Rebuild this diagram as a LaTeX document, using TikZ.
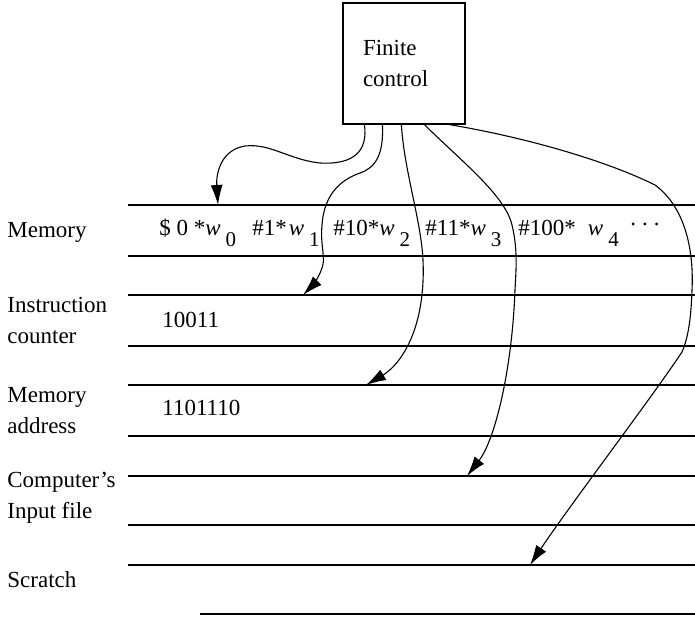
\documentclass[tikz,border=0pt]{standalone}
\usepackage{fontspec}
\setmainfont{Liberation Serif}
\usetikzlibrary{arrows.meta, positioning}
\newcommand{\wsub}[1]{\textit{w}\hspace{2.5pt}\raisebox{-5.5pt}{\fontsize{10.5}{12}\selectfont #1}}

\begin{document}
\begin{tikzpicture}[
  x=0.5pt, y=-0.5pt,
  font=\fontsize{11.5}{15.5}\selectfont,
  fcbox/.style={draw, line width=0.6pt, minimum width=61pt, minimum height=60.5pt,
                text width=41pt, inner xsep=10pt, align=left},
  tapeline/.style={line width=0.65pt},
  lbl/.style={anchor=base west, align=left, inner sep=0pt},
  cell/.style={anchor=base west, inner sep=0pt},
  arr/.style={-{Latex[length=10pt, width=6pt]}, line width=0.55pt}
]
\useasboundingbox (0,0) rectangle (695,616);

% finite control
\node[fcbox] (fc) at (404,63.5) {Finite\\control};

% tapes
\foreach \y in {205,256,295,346,385,436,476,525,565}
  \draw[tapeline] (128,\y) -- (695,\y);
\draw[tapeline] (200,614) -- (695,614);

\node[lbl] (lmem) at (7,237) {Memory};
\node[lbl] (lic)  at (7,343) {Instruction\\counter};
\node[lbl] (lma)  at (7,433) {Memory\\address};
\node[lbl] (linp) at (7,518) {Computer's\\Input file};
\node[lbl] (lscr) at (7,587) {Scratch};

% tape contents
\node[cell] (w0) at (159,235) {\$ 0 *\wsub{0}};
\node[cell] (w1) at (252,235) {\#1*\hspace{1pt}\wsub{1}};
\node[cell] (w2) at (333,235) {\#10*\wsub{2}};
\node[cell] (w3) at (425,235) {\#11*\wsub{3}};
\node[cell] (w4) at (518,235) {\#100*\hspace{6pt}\wsub{4}};
\node[cell] (dots) at (630,235) {\raisebox{5pt}{.\hspace{3pt}.\hspace{3pt}.}};
\node[cell] (ic) at (162,327) {10011};
\node[cell] (ma) at (162,415) {1101110};

% heads
\coordinate (s1) at ([xshift=11pt]fc.south west);
\coordinate (s2) at ([xshift=20pt]fc.south west);
\coordinate (s3) at ([xshift=29.5pt]fc.south west);
\coordinate (s4) at ([xshift=41pt]fc.south west);
\coordinate (s5) at ([xshift=53.5pt]fc.south west);
\coordinate (tmem) at (218,205);
\coordinate (tic)  at (303,295);
\coordinate (tma)  at (366,385);
\coordinate (tinp) at (467,476);
\coordinate (tscr) at (530,565);

\draw[arr] (s1) .. controls (368,150) and (355,165) .. (320,163)
  .. controls (290,160) and (270,143) .. (245,146)
  .. controls (220,150) and (216,175) .. (tmem);
\draw[arr] (s2) .. controls (384,155) and (375,168) .. (360,173)
  .. controls (340,180) and (324,195) .. (322,225)
  .. controls (320,245) and (326,258) .. (322,268)
  .. controls (318,280) and (310,288) .. (tic);
\draw[arr] (s3) .. controls (404,170) and (421,220) .. (423,260)
  .. controls (426,330) and (400,365) .. (tma);
\draw[arr] (s4) .. controls (460,160) and (505,195) .. (512,225)
  .. controls (518,250) and (516,270) .. (515,290)
  .. controls (512,370) and (495,440) .. (tinp);
\draw[arr] (s5) .. controls (540,140) and (615,165) .. (655,185)
  .. controls (685,207) and (694,250) .. (692,290)
  .. controls (691,320) and (688,338) .. (682,352)
  .. controls (650,400) and (570,505) .. (tscr);
\end{tikzpicture}
\end{document}
